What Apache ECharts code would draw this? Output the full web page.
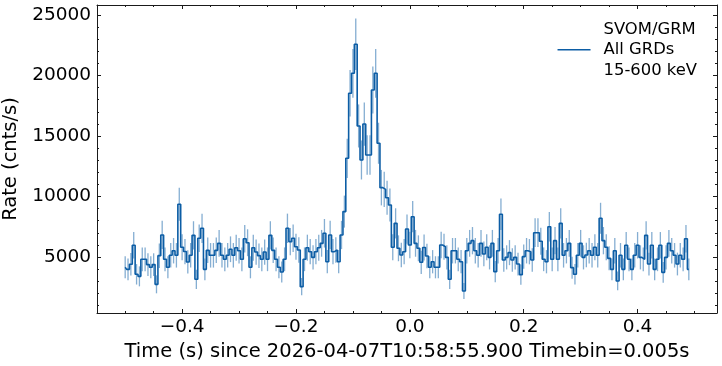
<!DOCTYPE html>
<html>
<head>
<meta charset="utf-8">
<script src="https://cdn.jsdelivr.net/npm/echarts@6/dist/echarts.min.js"></script>
<style>
html,body{margin:0;padding:0;background:#fff;}
#chart{width:722px;height:366px;}
</style>
</head>
<body>
<div id="chart"></div>
<script>
// ---- data ----
const t0 = -0.5;          // first bin time (s)
const binWidth = 0.005;   // Timebin (s)
const rates = [
4150,3980,4400,5970,3570,3400,4810,4810,4370,4150,
4370,2740,5110,6820,4810,4150,5140,5520,5140,9360,
5800,5450,4590,5140,6790,3160,6550,7370,3980,5550,
5140,5140,5550,6130,5140,4810,5140,5640,5140,5770,
5520,4810,6510,6180,4150,5770,5410,5110,4810,5410,
4810,6790,5550,4810,4150,3760,4810,7370,6270,6550,
5850,5580,2550,4810,5770,5440,4970,5440,5770,6130,
6960,4610,6820,5440,5580,4610,6820,8750,13160,18530,
20180,22580,15830,13020,15990,13430,13430,18800,20180,14400,
10730,10590,9900,9300,5800,7780,5720,5170,5440,7310,
5990,8330,6130,5720,4560,5780,5080,4150,4610,4150,
4150,5990,5850,4970,3160,5520,5520,4810,4610,2190,
5520,6130,6350,5520,5140,6130,5250,5800,4970,6130,
3790,5520,8530,4750,4970,5360,4750,4970,4420,3540,
5030,5520,5440,4750,7010,7010,6300,4810,4610,7500,
4810,6350,4810,7780,5140,5520,6130,4120,3570,5140,
6130,4970,5170,5520,5140,5800,5140,8200,6350,5800,
4890,3980,5520,3020,5140,3980,5970,4810,3980,5140,
5970,4970,4810,6790,4420,5970,3980,4810,5970,3730,
4970,6130,5520,5140,4420,5140,4810,6510,3980
];
const xMajorTicks = [-0.4, -0.2, 0.0, 0.2, 0.4];
const xMinorTicks = [-0.5, -0.45, -0.35, -0.3, -0.25, -0.15, -0.1, -0.05, 0.05, 0.1, 0.15, 0.25, 0.3, 0.35, 0.45, 0.5];
const yMajorTicks = [5000, 10000, 15000, 20000, 25000];
const yMinorTicks = [1000, 2000, 3000, 4000, 6000, 7000, 8000, 9000, 11000, 12000, 13000, 14000, 16000, 17000, 18000, 19000, 21000, 22000, 23000, 24000];
const legendName = 'SVOM/GRM\nAll GRDs\n15-600 keV';
const xTitle = 'Time (s) since 2026-04-07T10:58:55.900 Timebin=0.005s';
const yTitle = 'Rate (cnts/s)';

// bin times and Poisson errors (sqrt(counts)/binWidth)
const times = rates.map((_, i) => +(t0 + i * binWidth).toFixed(4));
const errors = rates.map(r => Math.sqrt(r * binWidth) / binWidth);
const lineData = rates.map((r, i) => [times[i], r]);
const errData = rates.map((r, i) => [times[i], r, errors[i]]);

const X_MIN = -0.5495, X_MAX = 0.5395;
const Y_MIN = 372, Y_MAX = 25826;
const COLOR = '#0C5DA5';
const FONT = 'DejaVu Sans';
const AX = '#1a1a1a';

function xAxisDef(pos, ticks, len, showLine, showLabel) {
  return {
    type: 'value', position: pos, min: X_MIN, max: X_MAX, gridIndex: 0,
    axisLine: { show: showLine, onZero: false, lineStyle: { color: AX, width: 1 } },
    axisTick: { show: true, inside: true, length: len, customValues: ticks, lineStyle: { color: AX, width: 1 } },
    axisLabel: showLabel ? {
      show: true, customValues: ticks, margin: 5, color: '#000', fontFamily: FONT, fontSize: 18.5,
      formatter: v => (v < 0 ? '\u2212' : '') + Math.abs(v).toFixed(1)
    } : { show: false },
    splitLine: { show: false }
  };
}
function yAxisDef(pos, ticks, len, showLine, showLabel) {
  return {
    type: 'value', position: pos, min: Y_MIN, max: Y_MAX, gridIndex: 0,
    axisLine: { show: showLine, onZero: false, lineStyle: { color: AX, width: 1 } },
    axisTick: { show: true, inside: true, length: len, customValues: ticks, lineStyle: { color: AX, width: 1 } },
    axisLabel: showLabel ? {
      show: true, customValues: ticks, margin: 6, color: '#000', fontFamily: FONT, fontSize: 18.5,
      formatter: v => String(v)
    } : { show: false },
    splitLine: { show: false }
  };
}

const xb = xAxisDef('bottom', xMajorTicks, 4, true, true);
xb.name = xTitle; xb.nameLocation = 'middle'; xb.nameGap = 29;
xb.nameTextStyle = { color: '#000', fontFamily: FONT, fontSize: 19.5 };
const yl = yAxisDef('left', yMajorTicks, 4, true, true);
yl.name = yTitle; yl.nameLocation = 'middle'; yl.nameGap = 70;
yl.nameTextStyle = { color: '#000', fontFamily: FONT, fontSize: 19.5 };

const chart = echarts.init(document.getElementById('chart'), null, { renderer: 'canvas' });
chart.setOption({
  animation: false,
  backgroundColor: '#fff',
  grid: { left: 97, right: 5, top: 5, bottom: 53, containLabel: false, outerBoundsMode: 'none' },
  legend: {
    right: 25, top: 19, padding: 0,
    icon: 'rect', itemWidth: 33, itemHeight: 1.6,
    textStyle: { color: '#000', fontFamily: FONT, fontSize: 16.4, lineHeight: 20.5, padding: [0, 0, 0, 8] },
    data: [{ name: legendName, itemStyle: { color: COLOR } }]
  },
  xAxis: [
    xb,
    xAxisDef('bottom', xMinorTicks, 2, false, false),
    xAxisDef('top', xMajorTicks, 4, true, false),
    xAxisDef('top', xMinorTicks, 2, false, false)
  ],
  yAxis: [
    yl,
    yAxisDef('left', yMinorTicks, 2, false, false),
    yAxisDef('right', yMajorTicks, 4, true, false),
    yAxisDef('right', yMinorTicks, 2, false, false)
  ],
  series: [
    {
      name: 'errors', type: 'custom', xAxisIndex: 0, yAxisIndex: 0, clip: true,
      data: errData,
      renderItem: (params, api) => {
        const x = api.value(0), y = api.value(1), e = api.value(2);
        const p1 = api.coord([x, y - e]), p2 = api.coord([x, y + e]);
        return { type: 'line', shape: { x1: p1[0], y1: p1[1], x2: p2[0], y2: p2[1] },
          style: { stroke: COLOR, lineWidth: 1.3, opacity: 0.5 } };
      },
      z: 1, silent: true
    },
    {
      name: legendName, type: 'line', step: 'middle', xAxisIndex: 0, yAxisIndex: 0,
      data: lineData, showSymbol: false, symbol: 'none',
      lineStyle: { color: COLOR, width: 1.6 }, itemStyle: { color: COLOR },
      z: 2
    }
  ]
});
</script>
</body>
</html>
